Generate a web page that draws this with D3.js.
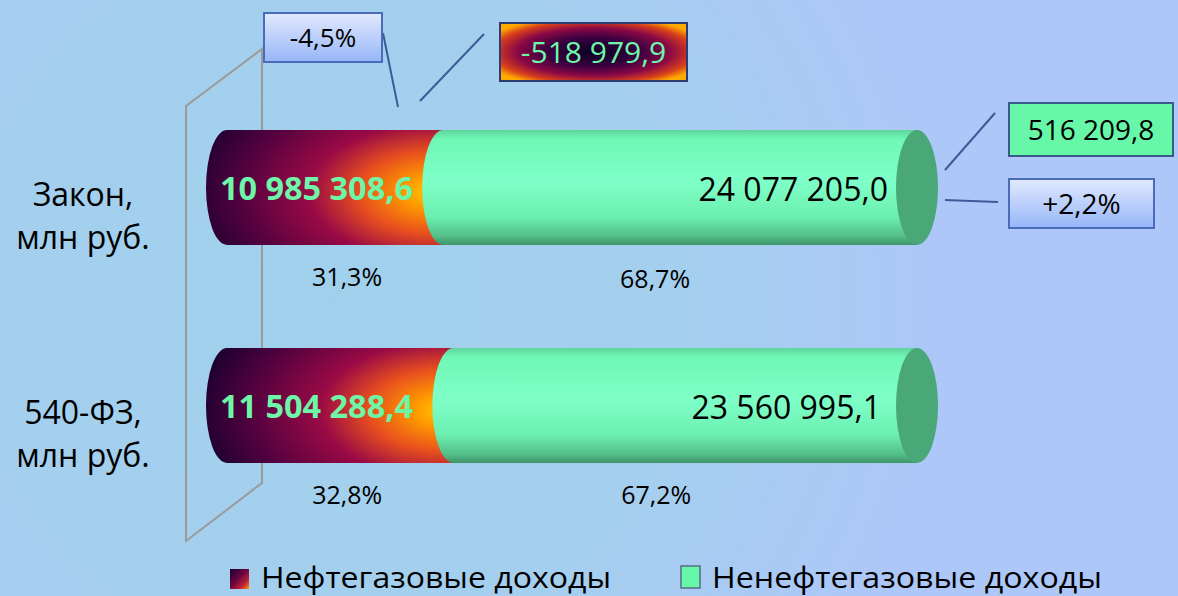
<!DOCTYPE html>
<html>
<head>
<meta charset="utf-8">
<script src="https://cdn.jsdelivr.net/npm/d3@7/dist/d3.min.js"></script>
<style>
  html, body { margin: 0; padding: 0; }
  body { width: 1178px; height: 596px; overflow: hidden; }
  text { font-family: "Open Sans", "Noto Sans", sans-serif; }
</style>
</head>
<body>
<script>
// Data
const categories = ["Закон", "540-ФЗ"];
const categoryLines = [["Закон,", "млн руб."], ["540-ФЗ,", "млн руб."]];
const oilGas = [10985308.6, 11504288.4];       // Нефтегазовые доходы
const nonOilGas = [24077205.0, 23560995.1];    // Ненефтегазовые доходы
const seriesNames = ["Нефтегазовые доходы", "Ненефтегазовые доходы"];
const oilDiffText = "-518 979,9";
const oilDiffPct = "-4,5%";
const nonOilDiffText = "516 209,8";
const nonOilDiffPct = "+2,2%";

const W = 1178, H = 596;
const barH = 115, capRx = 21;

const ru = d3.formatLocale({ decimal: ",", thousands: " ", grouping: [3], currency: ["", " руб."] });
const fmtVal = ru.format(",.1f");
const fmtPct = ru.format(".1f");

const svg = d3.select("body").append("svg")
  .attr("width", W).attr("height", H);

const defs = svg.append("defs");

// background
const bg = defs.append("radialGradient").attr("id", "bg")
  .attr("gradientUnits", "userSpaceOnUse")
  .attr("cx", 330).attr("cy", 300).attr("r", 620);
bg.append("stop").attr("offset", "0").attr("stop-color", "#a0d1ec");
bg.append("stop").attr("offset", "0.55").attr("stop-color", "#a4cfee");
bg.append("stop").attr("offset", "1").attr("stop-color", "#adc7f8");
svg.append("rect").attr("width", W).attr("height", H).attr("fill", "url(#bg)");

// scales
const x = d3.scaleLinear().domain([0, 100]).range([227, 917]);
const y = d3.scalePoint().domain(categories).range([187.5, 405.5]);

// gradients
const green = defs.append("linearGradient").attr("id", "green")
  .attr("x1", 0).attr("y1", 0).attr("x2", 0).attr("y2", 1);
[[0, "#5fd49c"], [0.08, "#6ff8b6"], [0.45, "#7effc8"], [0.75, "#6cf0b0"], [0.92, "#55c08a"], [1, "#3f9468"]]
  .forEach(([o, c]) => green.append("stop").attr("offset", o).attr("stop-color", c));

categories.forEach((c, i) => {
  const share = oilGas[i] / (oilGas[i] + nonOilGas[i]) * 100;
  const cx = x(share) - 8, cy = y(c) + 5;
  const g = defs.append("radialGradient").attr("id", "oil" + i)
    .attr("gradientUnits", "userSpaceOnUse")
    .attr("cx", cx).attr("cy", cy).attr("r", 250)
    .attr("gradientTransform", `translate(${cx},${cy}) scale(1,0.55) translate(${-cx},${-cy})`);
  [[0, "#ffcc00"], [0.12, "#ff9a00"], [0.3, "#e8501e"], [0.5, "#9a0a45"], [0.75, "#5a0240"], [1, "#1c0030"]]
    .forEach(([o, cc]) => g.append("stop").attr("offset", o).attr("stop-color", cc));
});

const oilIcon = defs.append("linearGradient").attr("id", "oilIcon")
  .attr("x1", 0).attr("y1", 0).attr("x2", 1).attr("y2", 1);
[[0, "#1c0030"], [0.45, "#6a0440"], [0.75, "#c0203a"], [1, "#ff9a00"]]
  .forEach(([o, c]) => oilIcon.append("stop").attr("offset", o).attr("stop-color", c));

const boxGrad = defs.append("linearGradient").attr("id", "boxGrad")
  .attr("x1", 0).attr("y1", 0).attr("x2", 0).attr("y2", 1);
boxGrad.append("stop").attr("offset", 0).attr("stop-color", "#e2e9fe");
boxGrad.append("stop").attr("offset", 1).attr("stop-color", "#96b6f8");

const diffGrad = defs.append("radialGradient").attr("id", "diffGrad")
  .attr("cx", 0.5).attr("cy", 0.5).attr("r", 0.62);
[[0, "#0a0022"], [0.4, "#3a0040"], [0.66, "#8a0845"], [0.86, "#d8401c"], [1, "#ffaa00"]]
  .forEach(([o, c]) => diffGrad.append("stop").attr("offset", o).attr("stop-color", c));

// back wall (3D axis)
const wall = [[186, 106], [262, 49], [262, 483], [186, 541]];
svg.append("path")
  .attr("d", d3.line()(wall) + "Z")
  .attr("fill", "none").attr("stroke", "#9a9a9a").attr("stroke-width", 2);

// cylinders
function segPath(x0, x1, cy) {
  const t = cy - barH / 2, b = cy + barH / 2, ry = barH / 2;
  return `M${x0},${t}L${x1},${t}L${x1},${b}L${x0},${b}A${capRx},${ry} 0 0 1 ${x0},${t}Z`;
}

const bars = svg.append("g");
categories.forEach((c, i) => {
  const total = oilGas[i] + nonOilGas[i];
  const s = oilGas[i] / total * 100;
  const cy = y(c);
  bars.append("path").attr("d", segPath(x(0), x(s), cy)).attr("fill", `url(#oil${i})`);
  bars.append("path").attr("d", segPath(x(s), x(100), cy)).attr("fill", "url(#green)");
  bars.append("ellipse").attr("cx", x(100)).attr("cy", cy)
    .attr("rx", capRx).attr("ry", barH / 2).attr("fill", "#4aa878");

  // value labels
  svg.append("text").attr("x", x(0) - 7).attr("y", cy + 12)
    .attr("font-size", 33).attr("font-weight", 700).attr("fill", "#6df6a8")
    .attr("textLength", 193).attr("lengthAdjust", "spacingAndGlyphs")
    .text(fmtVal(oilGas[i]));
  svg.append("text").attr("x", x(100) - 29 - i * 7).attr("y", cy + 13)
    .attr("text-anchor", "end").attr("font-size", 32).attr("fill", "#000")
    .text(fmtVal(nonOilGas[i]));

  // shares
  svg.append("text").attr("x", x(s / 2) + 12 - i * 5).attr("y", cy + barH / 2 + 41)
    .attr("text-anchor", "middle").attr("font-size", 25).attr("fill", "#000")
    .text(fmtPct(s) + "%");
  svg.append("text").attr("x", x(s + (100 - s) / 2) - 25 - i * 4).attr("y", cy + barH / 2 + 43 - i * 2)
    .attr("text-anchor", "middle").attr("font-size", 25).attr("fill", "#000")
    .text(fmtPct(100 - s) + "%");

  // category labels
  const lab = svg.append("text").attr("text-anchor", "middle").attr("font-size", 32).attr("fill", "#000");
  categoryLines[i].forEach((l, k) => {
    lab.append("tspan").attr("x", 83).attr("y", cy + 18 + k * 43).text(l);
  });
});

// annotations
function box(x0, y0, w, h, fill, stroke, txt, color, fs) {
  svg.append("rect").attr("x", x0).attr("y", y0).attr("width", w).attr("height", h)
    .attr("fill", fill).attr("stroke", stroke).attr("stroke-width", 2);
  svg.append("text").attr("x", x0 + w / 2).attr("y", y0 + h / 2 + fs * 0.36)
    .attr("text-anchor", "middle").attr("font-size", fs).attr("fill", color).text(txt);
}
function leader(a, b) {
  svg.append("line").attr("x1", a[0]).attr("y1", a[1]).attr("x2", b[0]).attr("y2", b[1])
    .attr("stroke", "#3d5a99").attr("stroke-width", 2);
}
leader([383, 33], [398, 107]);
leader([420, 101], [484, 34]);
leader([945, 170], [995, 113]);
leader([945, 200], [998, 202]);
box(264, 13, 118, 49, "url(#boxGrad)", "#4a6bb8", oilDiffPct, "#000", 26);
box(500, 23, 187, 58, "url(#diffGrad)", "#2d3c6e", oilDiffText, "#6df6a8", 30);
box(1009, 103, 164, 53, "#66f8a8", "#3a5a8a", nonOilDiffText, "#000", 28);
box(1009, 179, 145, 49, "url(#boxGrad)", "#4a6bb8", nonOilDiffPct, "#000", 28);

// legend
const leg = svg.append("g");
leg.append("rect").attr("x", 230).attr("y", 569).attr("width", 19).attr("height", 20).attr("fill", "url(#oilIcon)");
leg.append("text").attr("x", 261).attr("y", 588).attr("font-size", 29).attr("fill", "#000")
  .attr("textLength", 350).attr("lengthAdjust", "spacingAndGlyphs").text(seriesNames[0]);
leg.append("rect").attr("x", 681).attr("y", 566).attr("width", 19).attr("height", 22)
  .attr("fill", "#66f8a8").attr("stroke", "#5a6a8a").attr("stroke-width", 1.5);
leg.append("text").attr("x", 712).attr("y", 588).attr("font-size", 29).attr("fill", "#000")
  .attr("textLength", 390).attr("lengthAdjust", "spacingAndGlyphs").text(seriesNames[1]);
</script>
</body>
</html>
